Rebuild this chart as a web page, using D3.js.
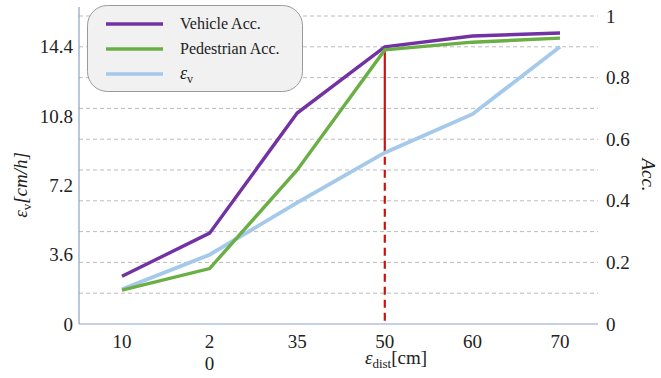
<!DOCTYPE html>
<html>
<head>
<meta charset="utf-8">
<script src="https://cdn.jsdelivr.net/npm/d3@7"></script>
<style>
  body { margin: 0; background: #fff; }
  svg text { font-family: "Liberation Serif", "Times New Roman", serif; fill: #222; }
</style>
</head>
<body>
<div id="chart"></div>
<script>
// data
var categories = ["10", "20", "35", "50", "60", "70"];
var tickLabels = [["10"], ["2", "0"], ["35"], ["50"], ["60"], ["70"]];
var vehicleAcc = [0.155, 0.295, 0.685, 0.9, 0.935, 0.945];
var pedestrianAcc = [0.11, 0.18, 0.5, 0.89, 0.915, 0.928];
var epsV = [1.8, 3.6, 6.3, 8.9, 10.9, 14.4];
var leftTicks = [0, 3.6, 7.2, 10.8, 14.4];
var rightTicks = [0, 0.2, 0.4, 0.6, 0.8, 1];
var gridTicks = [0.1, 0.2, 0.3, 0.4, 0.5, 0.6, 0.7, 0.8, 0.9, 1.0];
var markCategory = "50";

var svg__Width = 661;
var svg__Height = 378;
var chart__Margin = { top: 16, right: 63, bottom: 54, left: 79 };
var chart__Width = svg__Width - chart__Margin.left - chart__Margin.right;
var chart__Height = svg__Height - chart__Margin.top - chart__Margin.bottom;

var serif = "Liberation Serif";

var svg = d3.select("#chart").append("svg")
  .attr("width", svg__Width)
  .attr("height", svg__Height);

var g = svg.append("g")
  .attr("transform", `translate(${chart__Margin.left}, ${chart__Margin.top})`);

var x = d3.scalePoint().domain(categories).range([43, 481]);
var yRight = d3.scaleLinear().domain([0, 1]).range([chart__Height, 0]);
var yLeft = d3.scaleLinear().domain([0, 16]).range([chart__Height, 0]);

// grid lines
g.append("g").selectAll("line")
  .data(gridTicks)
  .enter().append("line")
  .attr("x1", 0).attr("x2", chart__Width)
  .attr("y1", d => yRight(d)).attr("y2", d => yRight(d))
  .attr("stroke", "#bcbcbc")
  .attr("stroke-width", 1)
  .attr("stroke-dasharray", "4,3");

// axis lines
g.append("line")
  .attr("x1", 0).attr("x2", 0).attr("y1", -9).attr("y2", chart__Height)
  .attr("stroke", "#8aa2c8").attr("stroke-width", 1.2);
g.append("line")
  .attr("x1", 0).attr("x2", chart__Width).attr("y1", chart__Height).attr("y2", chart__Height)
  .attr("stroke", "#8aa2c8").attr("stroke-width", 1.2);

// left ticks
var leftAxis = d3.axisLeft(yLeft).tickValues(leftTicks).tickSize(0).tickPadding(6)
  .tickFormat(d => d === 0 ? "0" : d3.format(".1f")(d));
g.append("g").call(leftAxis)
  .call(a => a.select(".domain").remove())
  .selectAll("text").style("font-size", "19px").style("font-family", serif);

// right ticks
var rightAxis = d3.axisRight(yRight).tickValues(rightTicks).tickSize(0).tickPadding(8)
  .tickFormat(d => d === 0 ? "0" : d === 1 ? "1" : d3.format(".1f")(d));
g.append("g").attr("transform", `translate(${chart__Width}, 0)`).call(rightAxis)
  .call(a => a.select(".domain").remove())
  .selectAll("text").style("font-size", "19px").style("font-family", serif);

// bottom ticks
var bottom = g.append("g").attr("transform", `translate(0, ${chart__Height})`);
bottom.selectAll("text")
  .data(categories)
  .enter().append("text")
  .attr("x", d => x(d))
  .attr("y", 24)
  .attr("text-anchor", "middle")
  .style("font-size", "19px")
  .each(function(d, i) {
    var t = d3.select(this);
    tickLabels[i].forEach(function(s, j) {
      t.append("tspan").attr("x", x(d)).attr("dy", j === 0 ? 0 : 22).text(s);
    });
  });

// red marker line at 50
var mi = categories.indexOf(markCategory);
g.append("line")
  .attr("x1", x(markCategory)).attr("x2", x(markCategory))
  .attr("y1", yRight(vehicleAcc[mi])).attr("y2", yLeft(epsV[mi]))
  .attr("stroke", "#cc1111").attr("stroke-width", 2.2);
g.append("line")
  .attr("x1", x(markCategory)).attr("x2", x(markCategory))
  .attr("y1", yLeft(epsV[mi]) + 4).attr("y2", chart__Height)
  .attr("stroke", "#cc1111").attr("stroke-width", 2.2)
  .attr("stroke-dasharray", "8,5");

// series lines
var lineRight = d3.line().x((d, i) => x(categories[i])).y(d => yRight(d));
var lineLeft = d3.line().x((d, i) => x(categories[i])).y(d => yLeft(d));

g.append("path").datum(epsV)
  .attr("d", lineLeft).attr("fill", "none")
  .attr("stroke", "#a4c9ea").attr("stroke-width", 3.8);
g.append("path").datum(vehicleAcc)
  .attr("d", lineRight).attr("fill", "none")
  .attr("stroke", "#7232a4").attr("stroke-width", 3.4);
g.append("path").datum(pedestrianAcc)
  .attr("d", lineRight).attr("fill", "none")
  .attr("stroke", "#6aaf45").attr("stroke-width", 3.4);

// axis titles
var leftTitle = svg.append("text")
  .attr("transform", "translate(27, 185) rotate(-90)")
  .attr("text-anchor", "middle")
  .style("font-size", "19px");
leftTitle.append("tspan").style("font-style", "italic").text("ε");
leftTitle.append("tspan").attr("dy", 4).style("font-size", "13px").text("v");
leftTitle.append("tspan").attr("dy", -4).style("font-style", "italic").text("[cm/h]");

var rightTitle = svg.append("text")
  .attr("transform", "translate(642, 175) rotate(90)")
  .attr("text-anchor", "middle")
  .style("font-size", "19px")
  .style("font-style", "italic")
  .text("Acc.");

var bottomTitle = svg.append("text")
  .attr("x", 396).attr("y", 364)
  .attr("text-anchor", "middle")
  .style("font-size", "19px");
bottomTitle.append("tspan").style("font-style", "italic").text("ε");
bottomTitle.append("tspan").attr("dy", 4).style("font-size", "13px").text("dist");
bottomTitle.append("tspan").attr("dy", -4).text("[cm]");

// legend
var legend = svg.append("g");
legend.append("rect")
  .attr("x", 87.5).attr("y", 5.5).attr("width", 215).attr("height", 86)
  .attr("rx", 20).attr("ry", 20)
  .attr("fill", "#f1f1f1").attr("stroke", "#9a9a9a").attr("stroke-width", 1);
var legendItems = [
  { name: "Vehicle Acc.", color: "#7232a4" },
  { name: "Pedestrian Acc.", color: "#6aaf45" },
  { name: "ε", sub: "v", color: "#a4c9ea" }
];
legendItems.forEach(function(d, i) {
  var ly = 24 + i * 25;
  legend.append("line")
    .attr("x1", 106).attr("x2", 163).attr("y1", ly).attr("y2", ly)
    .attr("stroke", d.color).attr("stroke-width", 3.4);
  var t = legend.append("text")
    .attr("x", 180).attr("y", ly + 5)
    .style("font-size", "16px");
  if (d.sub) {
    t.append("tspan").style("font-style", "italic").style("font-size", "18px").text(d.name);
    t.append("tspan").attr("dy", 4).style("font-size", "12px").text(d.sub);
  } else {
    t.text(d.name);
  }
});
</script>
</body>
</html>
